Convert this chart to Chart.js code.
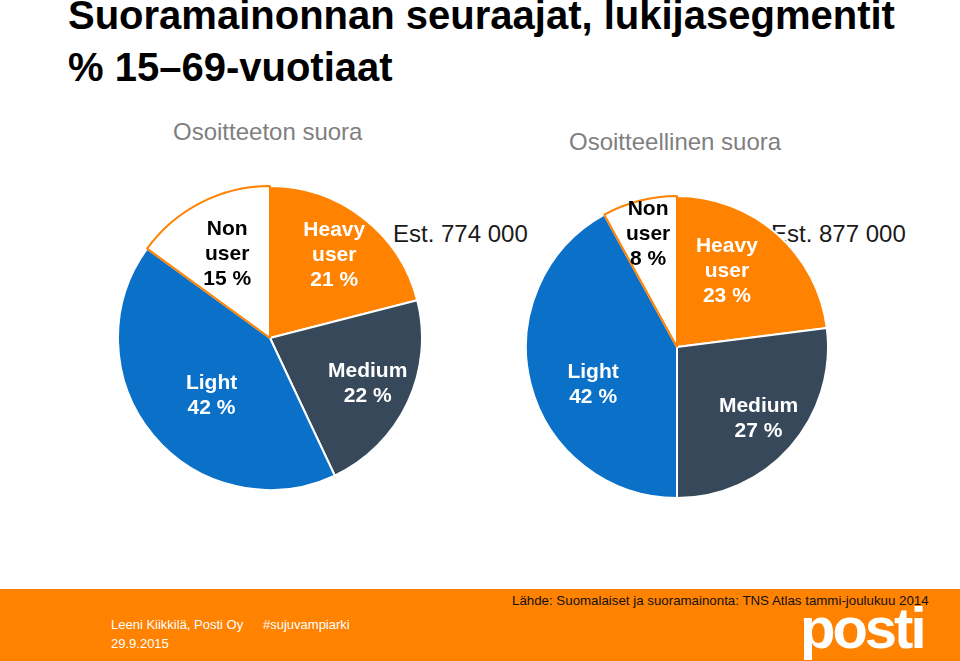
<!DOCTYPE html>
<html>
<head>
<meta charset="utf-8">
<script src="https://cdn.jsdelivr.net/npm/chart.js@4.4.1/dist/chart.umd.min.js"></script>
<style>
  html, body { margin: 0; padding: 0; background: #fff; }
  body { width: 960px; height: 661px; position: relative; overflow: hidden; font-family: "Liberation Sans", Arial, sans-serif; }
  .abs { position: absolute; white-space: nowrap; }
  .title { left: 68px; font-weight: bold; font-size: 40px; color: #000; }
  .sub { font-size: 24px; color: #7f7f7f; }
  .est { font-size: 24px; color: #1a1a1a; }
  #footer { position: absolute; left: 0; top: 589px; width: 960px; height: 72px; background: #ff8200; }
  .foot { font-size: 13px; color: #fff; }
</style>
</head>
<body>
<div class="abs title" style="top:-7px">Suoramainonnan seuraajat, lukijasegmentit</div>
<div class="abs title" style="top:45px">% 15–69-vuotiaat</div>

<div class="abs sub" style="left:173px; top:118px">Osoitteeton suora</div>
<div class="abs sub" style="left:569px; top:128px">Osoitteellinen suora</div>
<div class="abs est" style="left:393px; top:220px">Est. 774 000</div>
<div class="abs est" style="left:771px; top:220px">Est. 877 000</div>

<div class="abs" style="left:117px; top:185px; width:306px; height:306px"><canvas id="pie1"></canvas></div>
<div class="abs" style="left:525px; top:195px; width:304px; height:304px"><canvas id="pie2"></canvas></div>

<div id="footer"></div>
<div class="abs foot" style="left:111px; top:617px">Leeni Kiikkilä, Posti Oy</div>
<div class="abs foot" style="left:263px; top:617px">#sujuvampiarki</div>
<div class="abs foot" style="left:111px; top:636px">29.9.2015</div>
<div class="abs" style="left:512px; top:593px; font-size:13.3px; color:#111">Lähde: Suomalaiset ja suoramainonta: TNS Atlas tammi-joulukuu 2014</div>
<div class="abs" style="left:800px; top:594px; font-size:58px; font-weight:bold; color:#fff; letter-spacing:-3px">posti</div>

<script>
// segmentit, myötäpäivään ylhäältä
const segments = ["Heavy\nuser", "Medium", "Light", "Non\nuser"];
const osoitteeton = [21, 22, 42, 15];
const osoitteellinen = [23, 27, 42, 8];
const colors = ["#ff8200", "#37485a", "#0a70c8", "#ffffff"];
const borders = ["#ffffff", "#ffffff", "#ffffff", "#ff8200"];
const labelColors = ["#ffffff", "#ffffff", "#ffffff", "#000000"];

// tekstien etäisyys keskeltä (osuus säteestä) ja kulman siirto asteina
const labelDist1 = [0.69, 0.71, 0.54, 0.62];
const labelTurn1 = [0, 0, -5, 0];
const labelDist2 = [0.60, 0.72, 0.61, 0.77];
const labelTurn2 = [-8, 0, -10, 0];

const sliceLabels = {
    id: 'sliceLabels',
    afterDatasetsDraw(chart, args, opts) {
        const ctx = chart.ctx;
        const meta = chart.getDatasetMeta(0);
        const values = chart.data.datasets[0].data;
        ctx.save();
        ctx.font = 'bold 21px "Liberation Sans", Arial, sans-serif';
        ctx.textAlign = 'center';
        ctx.textBaseline = 'middle';
        meta.data.forEach((arc, i) => {
            const p = arc.getProps(['x', 'y', 'startAngle', 'endAngle', 'outerRadius']);
            const mid = (p.startAngle + p.endAngle) / 2 + opts.turn[i] * Math.PI / 180;
            const r = p.outerRadius * opts.dist[i];
            const cx = p.x + Math.cos(mid) * r;
            const cy = p.y + Math.sin(mid) * r;
            const lines = segments[i].split("\n");
            lines.push(values[i] + " %");
            ctx.fillStyle = labelColors[i];
            const lh = 25;
            lines.forEach((t, k) => {
                ctx.fillText(t, cx, cy + (k - (lines.length - 1) / 2) * lh);
            });
        });
        ctx.restore();
    }
};

function makePie(id, values, dist, turn) {
    new Chart(document.getElementById(id), {
        type: 'pie',
        data: {
            labels: segments.map(s => s.replace("\n", " ")),
            datasets: [{
                data: values,
                backgroundColor: colors,
                borderColor: borders,
                borderWidth: 2
            }]
        },
        options: {
            responsive: true,
            maintainAspectRatio: false,
            animation: false,
            layout: { padding: 0 },
            plugins: {
                legend: { display: false },
                tooltip: { enabled: false },
                sliceLabels: { dist: dist, turn: turn }
            }
        },
        plugins: [sliceLabels]
    });
}

makePie('pie1', osoitteeton, labelDist1, labelTurn1);
makePie('pie2', osoitteellinen, labelDist2, labelTurn2);
</script>
</body>
</html>
